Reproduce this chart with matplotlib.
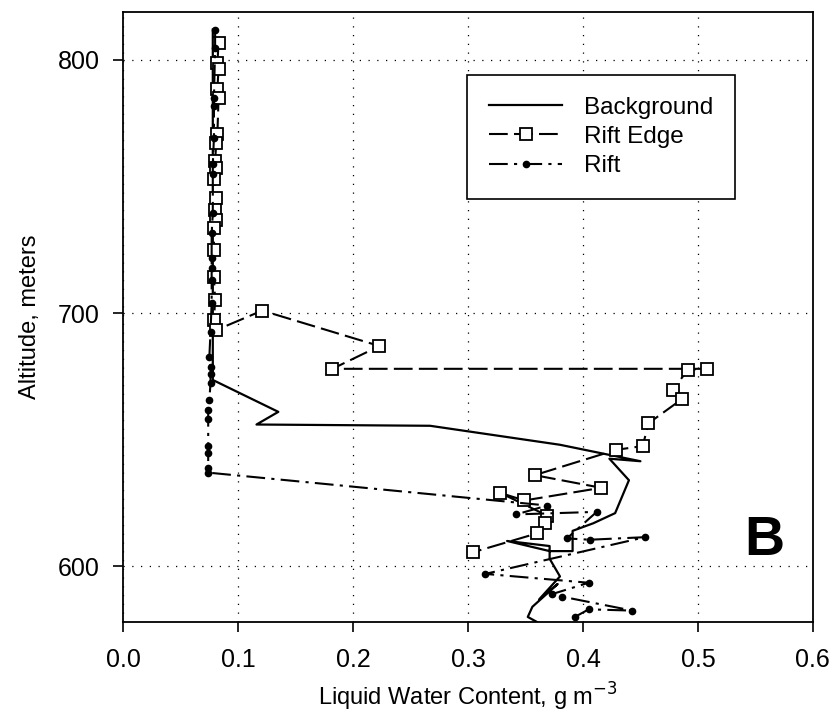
import matplotlib
matplotlib.use("Agg")
import matplotlib.pyplot as plt

plt.rcParams['font.family'] = ['Liberation Sans', 'DejaVu Sans']

# Background (solid line)
bg_lwc = [0.078, 0.078, 0.135, 0.116, 0.267, 0.380, 0.423, 0.450, 0.423, 0.440,
          0.428, 0.409, 0.391, 0.391, 0.371, 0.334, 0.371, 0.371, 0.380, 0.362,
          0.378, 0.356, 0.352, 0.360]
bg_alt = [812, 673.6, 661, 656, 655.5, 648, 644, 641.5, 642.5, 634,
          621, 617, 614, 606, 606, 610, 608, 603, 596, 587,
          593, 584, 580, 578]

# Rift Edge (squares)
edge_lwc = [0.083, 0.082, 0.083, 0.082, 0.083, 0.082, 0.081, 0.080, 0.081, 0.079,
            0.081, 0.080, 0.081, 0.079, 0.079, 0.079, 0.080, 0.079, 0.081,
            0.121, 0.223, 0.182, 0.508, 0.491, 0.478, 0.486, 0.457, 0.452,
            0.429, 0.358, 0.416, 0.349, 0.328, 0.369, 0.367, 0.360, 0.304]
edge_alt = [806.7, 798.8, 796.5, 788.6, 785, 770.9, 767, 760.2, 757.5, 753,
            745.3, 740.6, 736.6, 733.5, 724.8, 714.2, 705.1, 697.2, 693.3,
            701, 687, 678, 678, 677.5, 669.5, 666, 656.5, 647.5,
            646, 636, 631, 626, 629, 620, 617, 613, 605.5]

# Rift (dots, dash-dot line)
rift_lwc = [0.080, 0.080, 0.079, 0.079, 0.079, 0.078, 0.078, 0.078, 0.077, 0.077,
            0.077, 0.077, 0.077, 0.076, 0.075, 0.076, 0.076, 0.076, 0.075, 0.074,
            0.074, 0.074, 0.074, 0.074, 0.074,
            0.369, 0.342, 0.412, 0.386, 0.406, 0.454, 0.315, 0.405, 0.373,
            0.382, 0.443, 0.405, 0.393]
rift_alt = [811.8, 804.7, 785, 781.9, 769.3, 759, 755, 739.4, 731.5, 721.7,
            717.7, 713, 703.9, 692.5, 682.7, 678.7, 676, 672.4, 665.7, 661.8,
            658.3, 647.6, 644.9, 639, 637,
            624, 620.5, 621.5, 611, 610.5, 611.5, 597, 593.5, 589,
            588, 582.5, 583, 580]

xticks = [0.0, 0.1, 0.2, 0.3, 0.4, 0.5, 0.6]
yticks = [600, 700, 800]

fig = plt.figure(figsize=(8.32, 7.17), dpi=100)
ax = fig.add_axes([0.148, 0.1325, 0.829, 0.851])

ax.plot(bg_lwc, bg_alt, color='black', lw=1.6, label='Background')
ax.plot(edge_lwc, edge_alt, color='black', lw=1.5, dashes=(9, 3),
        marker='s', ms=9, mfc='white', mec='black', mew=1.3, label='Rift Edge')
ax.plot(rift_lwc, rift_alt, color='black', lw=1.5, dashes=(9, 3, 1.5, 3),
        marker='o', ms=4.5, mfc='black', mec='black', label='Rift')

ax.set_xlim(0, 0.6)
ax.set_ylim(578, 819)
ax.set_xticks(xticks)
ax.set_xticklabels([f'{v:.1f}' for v in xticks])
ax.set_yticks(yticks)
ax.tick_params(direction='out', length=7, width=1.2, labelsize=18, color='black')
ax.tick_params(axis='x', pad=12)
ax.tick_params(axis='y', pad=10)
ax.grid(True, color='black', linestyle=(0, (1, 6)), linewidth=0.9)
for s in ax.spines.values():
    s.set_linewidth(1.3)

ax.set_xlabel('Liquid Water Content, g m$^{-3}$', fontsize=17, labelpad=6)
ax.set_ylabel('Altitude, meters', fontsize=17, labelpad=12)

ax.text(0.558, 610, 'B', fontsize=40, fontweight='bold', ha='center', va='center')

leg = ax.legend(loc='upper left', bbox_to_anchor=(0.499, 0.897), fontsize=17.5,
                frameon=True, fancybox=False, framealpha=1, edgecolor='black',
                handlelength=3.0, borderpad=0.9, labelspacing=0.3,
                handletextpad=0.9, borderaxespad=0)
leg.get_frame().set_linewidth(1.2)

fig.savefig('out.png', dpi=100)
